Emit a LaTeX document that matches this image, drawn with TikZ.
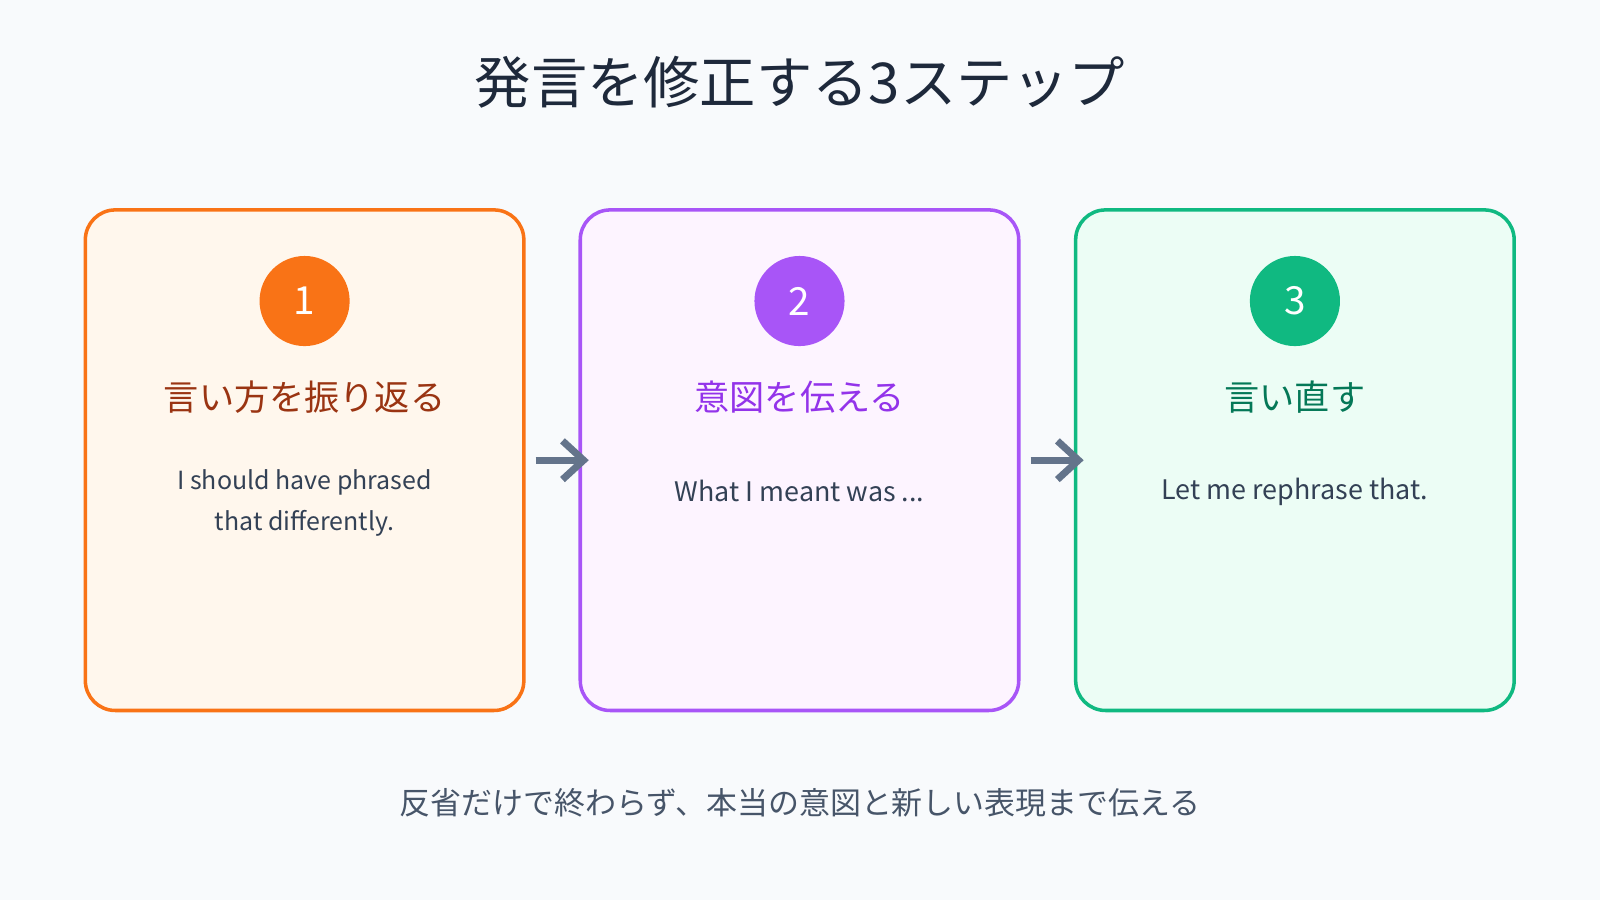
\documentclass[tikz,border=0pt]{standalone}
\usepackage{fontspec}
\setmainfont{Noto Sans CJK JP}
\usetikzlibrary{positioning,arrows.meta}
\definecolor{bgc}{HTML}{F8FAFC}
\definecolor{titlec}{HTML}{1E293B}
\definecolor{bodyc}{HTML}{334155}
\definecolor{notec}{HTML}{475569}
\definecolor{arrowc}{HTML}{64748B}
\definecolor{orangec}{HTML}{F97316}
\definecolor{orangebg}{HTML}{FFF7ED}
\definecolor{orangetx}{HTML}{9A3412}
\definecolor{purplec}{HTML}{A855F7}
\definecolor{purplebg}{HTML}{FDF4FF}
\definecolor{purpletx}{HTML}{9333EA}
\definecolor{greenc}{HTML}{10B981}
\definecolor{greenbg}{HTML}{ECFDF5}
\definecolor{greentx}{HTML}{047857}
\tikzset{
  stepbox/.style={draw=#1c, fill=#1bg, line width=1pt, rounded corners=8.5pt,
    minimum width=4.38cm, minimum height=5cm, inner sep=0pt},
  stepnum/.style={circle, fill=#1c, text=white, minimum size=0.9cm, inner sep=0pt,
    font=\fontsize{11}{13}\selectfont},
  steptitle/.style={text=#1tx, font=\fontsize{10}{12}\selectfont},
  stepbody/.style={text=bodyc, align=center, font=\fontsize{#1}{11.5}\selectfont},
  stepbody/.default=7.1,
  flow/.style={-{Straight Barb[length=6pt,width=11pt,line width=2pt]}, line width=2pt, draw=arrowc}
}
\begin{document}
\begin{tikzpicture}[x=0.0102cm, y=-0.0102cm]
        \useasboundingbox[fill=bgc] (0,0) rectangle (1568,882);
        % Title
        \node[text=titlec, font=\fontsize{16}{19}\selectfont] (title) at (784,81) {発言を修正する3ステップ};
        % Step boxes
        \node[stepbox=orange] (box1) at (298.5,451) {};
        \node[stepbox=purple] (box2) at (783.5,451) {};
        \node[stepbox=green] (box3) at (1269,451) {};
        % Numbers
        \node[stepnum=orange] (num1) at (298.5,295) {1};
        \node[stepnum=purple] (num2) at (783.5,295) {2};
        \node[stepnum=green] (num3) at (1269,295) {3};
        % Headings
        \node[steptitle=orange] (head1) at (298.5,389) {言い方を振り返る};
        \node[steptitle=purple] (head2) at (783.5,389) {意図を伝える};
        \node[steptitle=green] (head3) at (1269,389) {言い直す};
        % Phrases
        \node[stepbody] (body1) at (298.5,493) {I should have phrased\\that differently.};
        \node[stepbody=7.65] (body2) at (783.5,481) {What I meant was ...};
        \node[stepbody=7.65] (body3) at (1269,482) {Let me rephrase that.};
        % Arrows between steps
        \coordinate (a1s) at (525,451);
        \coordinate (a1e) at (577,451);
        \coordinate (a2s) at (1010,451);
        \coordinate (a2e) at (1062,451);
        \draw[flow] (a1s) -- (a1e);
        \draw[flow] (a2s) -- (a2e);
        % Note
        \node[text=notec, font=\fontsize{8.8}{11}\selectfont] (note) at (784,787) {反省だけで終わらず、本当の意図と新しい表現まで伝える};
\end{tikzpicture}
\end{document}
